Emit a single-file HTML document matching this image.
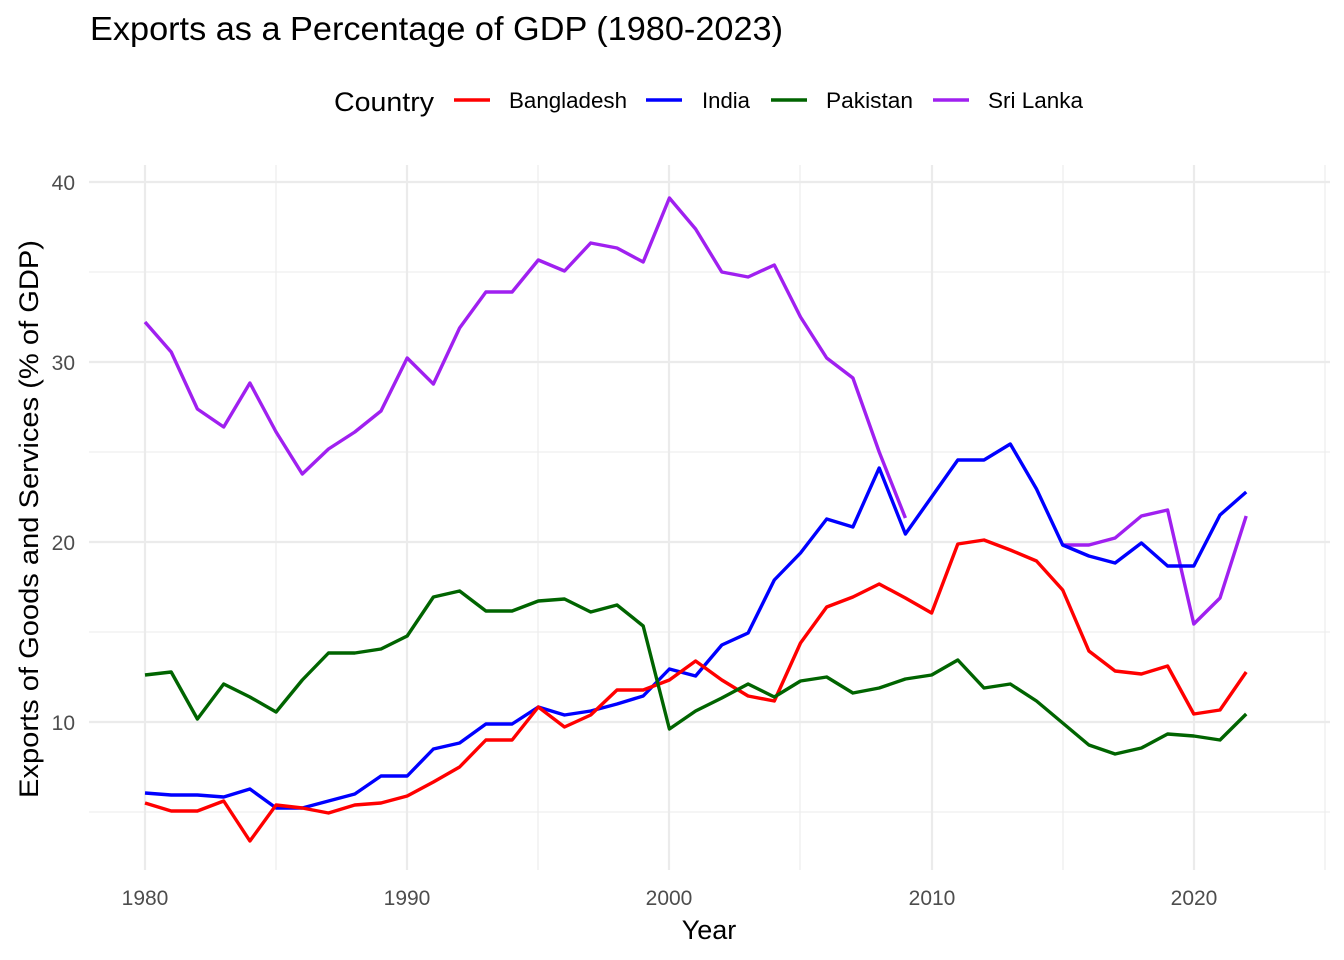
<!DOCTYPE html>
<html><head><meta charset="utf-8"><style>
html,body{margin:0;padding:0;background:#fff;}
svg{display:block;font-family:"Liberation Sans",Arial,sans-serif;}
</style></head><body>
<svg width="1344" height="960" viewBox="0 0 1344 960" xmlns="http://www.w3.org/2000/svg">
<rect width="1344" height="960" fill="#fff"/>
<text x="90" y="40" font-size="33" fill="#000" textLength="693" lengthAdjust="spacingAndGlyphs">Exports as a Percentage of GDP (1980-2023)</text>
<text x="334" y="111" font-size="27" fill="#000" textLength="100" lengthAdjust="spacingAndGlyphs">Country</text>
<line x1="454" y1="100" x2="490" y2="100" stroke="#ff0000" stroke-width="3.5"/>
<text x="509" y="108" font-size="22" textLength="118" lengthAdjust="spacingAndGlyphs">Bangladesh</text>
<line x1="646" y1="100" x2="682" y2="100" stroke="#0000ff" stroke-width="3.5"/>
<text x="702" y="108" font-size="22" textLength="48" lengthAdjust="spacingAndGlyphs">India</text>
<line x1="771" y1="100" x2="807" y2="100" stroke="#006400" stroke-width="3.5"/>
<text x="826" y="108" font-size="22" textLength="87" lengthAdjust="spacingAndGlyphs">Pakistan</text>
<line x1="933" y1="100" x2="969" y2="100" stroke="#a020f0" stroke-width="3.5"/>
<text x="988" y="108" font-size="22" textLength="95" lengthAdjust="spacingAndGlyphs">Sri Lanka</text>
<g stroke="#ebebeb" stroke-width="1.1">
<line x1="89" x2="1330" y1="272" y2="272"/><line x1="89" x2="1330" y1="452" y2="452"/><line x1="89" x2="1330" y1="632" y2="632"/><line x1="89" x2="1330" y1="812" y2="812"/>
<line y1="165" y2="870" x1="276" x2="276"/><line y1="165" y2="870" x1="538" x2="538"/><line y1="165" y2="870" x1="800" x2="800"/><line y1="165" y2="870" x1="1063" x2="1063"/><line y1="165" y2="870" x1="1325" x2="1325"/>
</g>
<g stroke="#ebebeb" stroke-width="2.2">
<line x1="89" x2="1330" y1="182" y2="182"/><line x1="89" x2="1330" y1="362" y2="362"/><line x1="89" x2="1330" y1="542" y2="542"/><line x1="89" x2="1330" y1="722" y2="722"/>
<line y1="165" y2="870" x1="145" x2="145"/><line y1="165" y2="870" x1="407" x2="407"/><line y1="165" y2="870" x1="669" x2="669"/><line y1="165" y2="870" x1="932" x2="932"/><line y1="165" y2="870" x1="1194" x2="1194"/>
</g>
<g font-size="21" fill="#4d4d4d" text-anchor="end">
<text x="75" y="190">40</text><text x="75" y="370">30</text><text x="75" y="550">20</text><text x="75" y="730">10</text>
</g>
<g font-size="21" fill="#4d4d4d" text-anchor="middle">
<text x="145" y="905">1980</text><text x="407" y="905">1990</text><text x="669" y="905">2000</text><text x="932" y="905">2010</text><text x="1194" y="905">2020</text>
</g>
<text x="709" y="939" font-size="27" text-anchor="middle">Year</text>
<text transform="translate(38,519) rotate(-90)" font-size="27" text-anchor="middle" textLength="558" lengthAdjust="spacingAndGlyphs">Exports of Goods and Services (% of GDP)</text>
<g fill="none" stroke-width="3.4" stroke-linejoin="round">
<polyline stroke="#a020f0" points="145,322 171.2,352 197.4,409 223.7,427 249.9,383 276.1,432 302.3,474 328.5,449 354.8,432 381,411 407.2,358 433.4,384 459.6,328 485.9,292 512.1,292 538.3,260 564.5,271 590.7,243 617,248 643.2,262 669.4,198 695.6,229 721.8,272 748.1,277 774.3,265 800.5,317 826.7,358 852.9,378 879.2,452 905.4,518"/>
<polyline stroke="#a020f0" points="1062.7,545 1088.9,545 1115.1,538 1141.4,516 1167.6,510 1193.8,624 1220,598 1246.2,516"/>
<polyline stroke="#0000ff" points="145,793 171.2,795 197.4,795 223.7,797 249.9,789 276.1,808 302.3,808 328.5,801 354.8,794 381,776 407.2,776 433.4,749 459.6,743 485.9,724 512.1,724 538.3,707 564.5,715 590.7,711 617,704 643.2,696 669.4,669 695.6,676 721.8,645 748.1,633 774.3,580 800.5,553 826.7,519 852.9,527 879.2,468 905.4,534 931.6,497 957.8,460 984,460 1010.3,444 1036.5,489 1062.7,545 1088.9,556 1115.1,563 1141.4,543 1167.6,566 1193.8,566 1220,515 1246.2,492"/>
<polyline stroke="#ff0000" points="145,803 171.2,811 197.4,811 223.7,801 249.9,841 276.1,805 302.3,808 328.5,813 354.8,805 381,803 407.2,796 433.4,782 459.6,767 485.9,740 512.1,740 538.3,707 564.5,727 590.7,715 617,690 643.2,690 669.4,680 695.6,661 721.8,680 748.1,696 774.3,701 800.5,643 826.7,607 852.9,597 879.2,584 905.4,598 931.6,613 957.8,544 984,540 1010.3,550 1036.5,561 1062.7,590 1088.9,651 1115.1,671 1141.4,674 1167.6,666 1193.8,714 1220,710 1246.2,672"/>
<polyline stroke="#006400" points="145,675 171.2,672 197.4,719 223.7,684 249.9,697 276.1,712 302.3,680 328.5,653 354.8,653 381,649 407.2,636 433.4,597 459.6,591 485.9,611 512.1,611 538.3,601 564.5,599 590.7,612 617,605 643.2,626 669.4,729 695.6,711 721.8,698 748.1,684 774.3,697 800.5,681 826.7,677 852.9,693 879.2,688 905.4,679 931.6,675 957.8,660 984,688 1010.3,684 1036.5,701 1062.7,723 1088.9,745 1115.1,754 1141.4,748 1167.6,734 1193.8,736 1220,740 1246.2,714"/>
</g>
</svg>
</body></html>
